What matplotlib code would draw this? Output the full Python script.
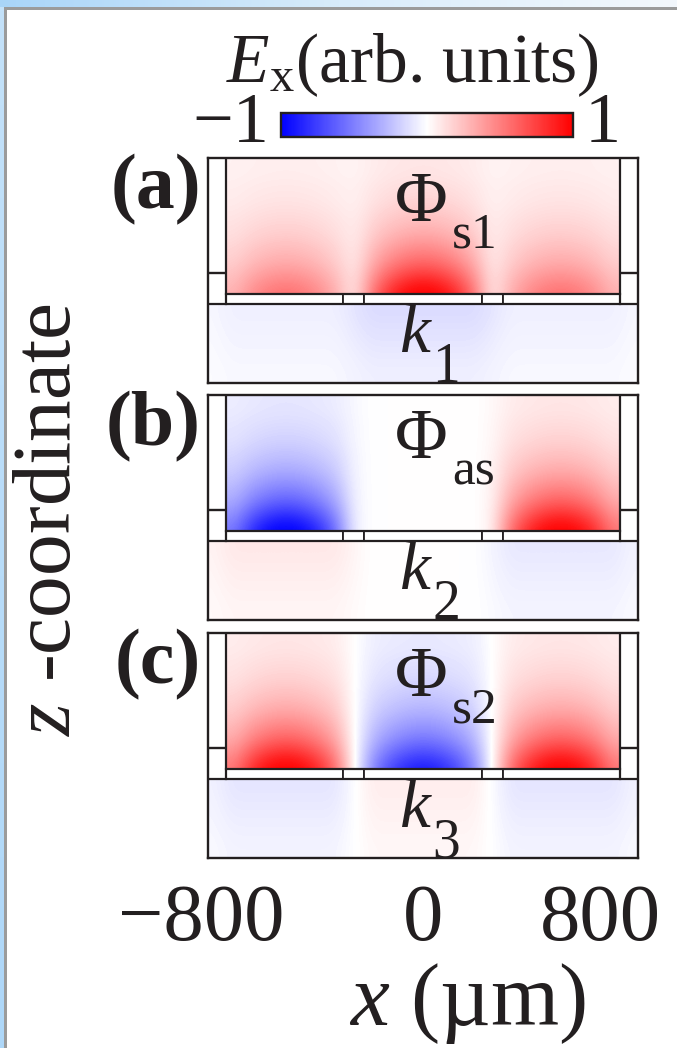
import numpy as np
import matplotlib
matplotlib.use("Agg")
import matplotlib.pyplot as plt
from matplotlib.colors import LinearSegmentedColormap
from matplotlib.patches import Rectangle
from matplotlib.transforms import ScaledTranslation

plt.rcParams['font.family'] = ['Liberation Serif', 'DejaVu Serif']
plt.rcParams['mathtext.fontset'] = 'custom'
plt.rcParams['mathtext.rm'] = 'Liberation Serif'
plt.rcParams['mathtext.it'] = 'Liberation Serif:italic'
plt.rcParams['mathtext.bf'] = 'Liberation Serif:bold'

# ---------------- data ----------------
panel_tags = ['(a)', '(b)', '(c)']
mode_symbol = '\u03a6'
mode_subs = ['s1', 'as', 's2']
k_symbol = 'k'
k_subs = ['1', '2', '3']
x_ticks = [-800, 0, 800]
x_tick_labels = ['\u2212800', '0', '800']
cbar_ticks = [-1, 1]
cbar_title = r'$E_{\rm x}$(arb. units)'
x_label = r'$x$ (µm)'
y_label = r'$z$ -coordinate'

# device geometry (x in µm, z in arbitrary units; interface at z = 0)
x_lim = (-970, 970)
z_lim = (-0.54, 1.0)
wall_x = 890
strip_top = 0.068
electrode_edges = [-890, -361, -268, 268, 361, 890]
z_tick = 0.21

# field amplitudes (left, centre, right electrode)
amp_near = [[0.50, 1.00, 0.50],
            [-1.00, 0.00, 1.00],
            [1.00, -0.85, 1.00]]
amp_far = [[0.85, 1.00, 0.85],
           [-1.00, 0.00, 1.00],
           [1.00, -0.90, 1.00]]
amp_below = [[-0.06, -0.14, -0.06],
             [0.09, 0.00, -0.09],
             [-0.10, 0.07, -0.10]]
# lateral profile of a lobe across one electrode (7 samples)
lobe_shape = [0.45, 0.75, 0.93, 1.00, 0.93, 0.75, 0.45]
# vertical profiles (from interface upward / from bottom up to interface)
decay_near = [1.00, 0.85, 0.66, 0.50, 0.38, 0.28, 0.20, 0.15, 0.11, 0.08, 0.06, 0.05]
decay_far = [0.09, 0.10, 0.10, 0.09, 0.09, 0.08, 0.08, 0.07, 0.06, 0.06, 0.05, 0.05]
decay_below = [0.45, 0.55, 0.70, 0.85, 1.00]
below_half_width = 984.4   # 25 samples below the interface, 23 between the walls above


def build_row(amps, shape, gap_vals, out_vals=None):
    shape = np.asarray(shape)
    row = [] if out_vals is None else [out_vals[0]]
    row += list(amps[0] * shape)
    row += [gap_vals[0]]
    row += list(amps[1] * shape)
    row += [gap_vals[1]]
    row += list(amps[2] * shape)
    if out_vals is not None:
        row += [out_vals[1]]
    return np.array(row)


cmap = LinearSegmentedColormap.from_list('bwr_pure', ['#0000ff', '#ffffff', '#ff0000'])
ink = '#231f20'

W, H = 677, 1048
fig = plt.figure(figsize=(W / 100, H / 100), dpi=100)
fig.patch.set_facecolor('white')


def fx(px):
    return px / W


def fy(py):
    return 1 - py / H


# screenshot frame (light-blue band and grey line)
top_band = fig.add_axes([0, fy(7), 1, 7 / H])
grad = np.linspace(0, 1, 256)[None, :]
top_band.imshow(grad, aspect='auto', cmap=LinearSegmentedColormap.from_list('tb', ['#a9d5f8', '#d8ecfb', '#f3f8fd']))
top_band.axis('off')
left_band = fig.add_axes([0, 0, 4 / W, fy(7)])
left_band.imshow(np.linspace(0, 1, 256)[:, None], aspect='auto',
                 cmap=LinearSegmentedColormap.from_list('lb', ['#c4e2fa', '#aed7f8']))
left_band.axis('off')
fig.patches.append(Rectangle((fx(4), fy(10)), 1, 3 / H, transform=fig.transFigure,
                             facecolor='#9b9b9b', edgecolor='none', zorder=5))
fig.patches.append(Rectangle((fx(4), 0), 3 / W, fy(7), transform=fig.transFigure,
                             facecolor='#9b9b9b', edgecolor='none', zorder=5))

panel_tops = [158, 395, 633]
panel_h = 225
ax_left, ax_right = 208, 638

axes = []
for i in range(3):
    top = panel_tops[i]
    ax = fig.add_axes([fx(ax_left), fy(top + panel_h), (ax_right - ax_left) / W, panel_h / H])
    axes.append(ax)

    near_row = build_row(amp_near[i], lobe_shape, [0, 0])
    far_row = build_row(amp_far[i], np.ones(7),
                        [(amp_far[i][0] + amp_far[i][1]) / 2, (amp_far[i][1] + amp_far[i][2]) / 2])
    below_row = build_row(amp_below[i], np.ones(7),
                          [(amp_below[i][0] + amp_below[i][1]) / 2, (amp_below[i][1] + amp_below[i][2]) / 2],
                          [0.5 * amp_below[i][0], 0.5 * amp_below[i][2]])
    top_field = np.clip(np.outer(decay_near, near_row) + np.outer(decay_far, far_row), -1, 1)
    bot_field = np.clip(np.outer(decay_below, below_row), -1, 1)

    ax.imshow(top_field, extent=(-wall_x, wall_x, 0, z_lim[1]), origin='lower',
              cmap=cmap, vmin=-1, vmax=1, interpolation='bicubic', aspect='auto', zorder=0)
    ax.imshow(bot_field, extent=(-below_half_width, below_half_width, z_lim[0], 0), origin='lower',
              cmap=cmap, vmin=-1, vmax=1, interpolation='bicubic', aspect='auto', zorder=0)

    # electrode strip (white metal pads)
    for j in range(len(electrode_edges) - 1):
        x0, x1 = electrode_edges[j], electrode_edges[j + 1]
        ax.add_patch(Rectangle((x0, 0), x1 - x0, strip_top, facecolor='white',
                               edgecolor=ink, linewidth=1.3, zorder=3))
    # side walls and interface
    ax.plot([-wall_x, -wall_x], [0, z_lim[1]], color=ink, lw=1.6, zorder=4)
    ax.plot([wall_x, wall_x], [0, z_lim[1]], color=ink, lw=1.6, zorder=4)
    ax.axhline(0, color=ink, lw=1.6, zorder=4)
    ax.plot([-wall_x, wall_x], [strip_top, strip_top], color=ink, lw=1.6, zorder=4)

    ax.set_xlim(*x_lim)
    ax.set_ylim(*z_lim)
    for s in ax.spines.values():
        s.set_linewidth(1.7)
        s.set_color(ink)
        s.set_zorder(6)

    ax.set_xticks(x_ticks)
    ax.set_xticks([0], minor=True)
    ax.set_yticks([])
    ax.set_yticks([z_tick], minor=True)
    ax.tick_params(axis='x', which='major', length=0, labelsize=58, pad=19, colors=ink,
                   labelbottom=(i == 2))
    ax.tick_params(which='minor', direction='in', length=12, width=1.7, color=ink,
                   top=True, bottom=True, left=True, right=True)
    if i == 2:
        ax.set_xticklabels(x_tick_labels)
        lab = ax.get_xticklabels()[0]
        lab.set_transform(lab.get_transform() + ScaledTranslation(-0.44, 0, fig.dpi_scale_trans))
    else:
        ax.set_xticklabels([])

    # mode label (Phi with lowered subscript) and wavenumber label
    ax.text(-128, 0.57, mode_symbol, fontsize=52, color=ink, ha='left', va='baseline', zorder=7)
    ax.text(131, 0.39, mode_subs[i], fontsize=37, color=ink, ha='left', va='baseline', zorder=7)
    ax.text(-104, -0.33, k_symbol, fontsize=50, color=ink, ha='left', va='baseline',
            style='italic', zorder=7)
    ax.text(41, -0.535, k_subs[i], fontsize=40, color=ink, ha='left', va='baseline', zorder=7)

    fig.text(fx(201), fy(top - 4), panel_tags[i], fontsize=56, fontweight='bold', color=ink,
             ha='right', va='top')

# colour bar
cax = fig.add_axes([fx(281), fy(137), 292 / W, 24 / H])
sm = matplotlib.cm.ScalarMappable(cmap=cmap, norm=matplotlib.colors.Normalize(-1, 1))
cb = fig.colorbar(sm, cax=cax, orientation='horizontal', ticks=[])
cb.outline.set_linewidth(1.7)
cb.outline.set_edgecolor(ink)
cax.text(-0.04, 0.5, '\u2212%d' % abs(cbar_ticks[0]), transform=cax.transAxes, fontsize=52,
         color=ink, ha='right', va='center')
cax.text(1.04, 0.5, '%d' % cbar_ticks[1], transform=cax.transAxes, fontsize=52,
         color=ink, ha='left', va='center')
fig.text(fx(412), fy(82), cbar_title, fontsize=50, color=ink, ha='center', va='baseline')

fig.text(fx(467), fy(1003), x_label, fontsize=63, color=ink, ha='center', va='center')
fig.text(fx(50), fy(520), y_label, fontsize=60, color=ink, ha='center', va='center', rotation=90)

fig.savefig('out.png', dpi=100)
